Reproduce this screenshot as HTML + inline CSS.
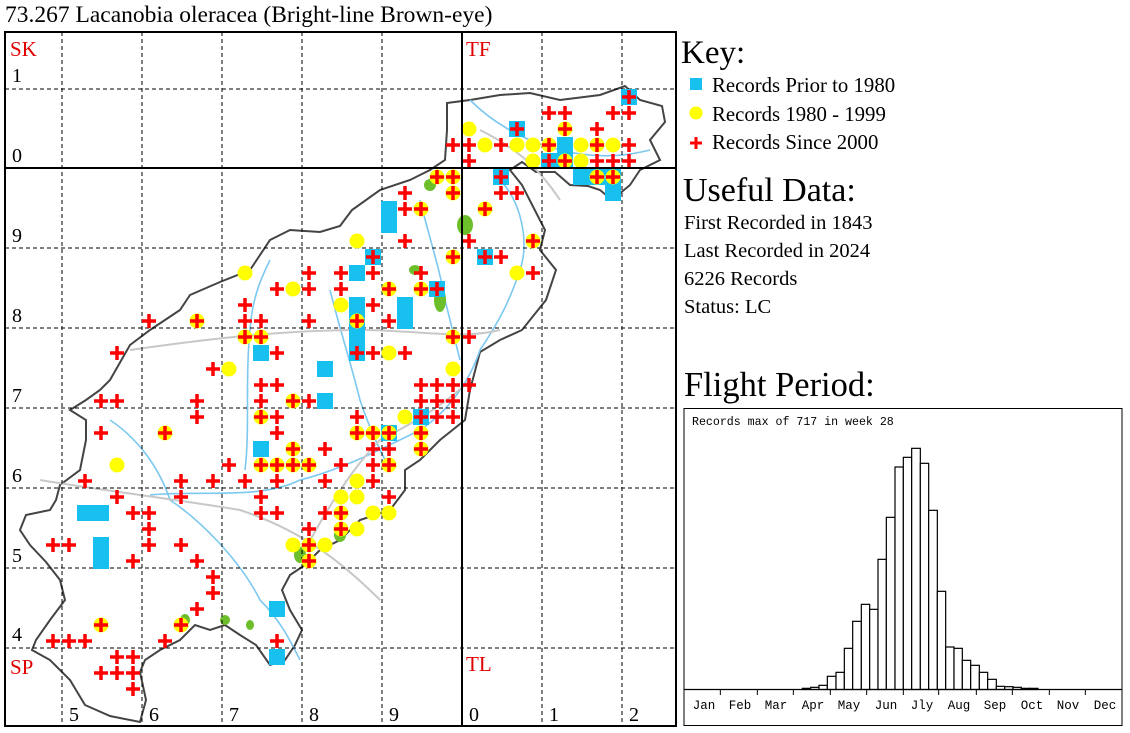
<!DOCTYPE html>
<html><head><meta charset="utf-8"><style>
html,body{margin:0;padding:0;background:#fff;width:1130px;height:733px;overflow:hidden}
svg{display:block}
.s{font-family:"Liberation Serif",serif}
.m{font-family:"Liberation Mono",monospace}
</style></head><body>
<svg id="svg" width="1130" height="733" viewBox="0 0 1130 733" xmlns="http://www.w3.org/2000/svg">
<text x="5" y="22" class="s" font-size="23.5">73.267 Lacanobia oleracea (Bright-line Brown-eye)</text>
<g id="map">
<polygon fill="#fff" stroke="#444" stroke-width="2" points="447,103 470,100 500,95 530,93 560,100 600,95 625,86 640,100 662,106 665,122 650,140 660,160 640,170 630,185 612,200 600,190 588,186 570,185 555,172 536,172 522,162 510,170 522,185 545,230 540,250 556,270 546,300 522,330 500,340 480,352 470,390 465,420 440,440 420,460 405,470 405,490 390,510 360,520 340,540 320,550 305,565 290,575 282,590 290,610 302,630 295,645 285,660 270,665 256,645 240,635 225,625 210,630 195,625 180,640 160,650 145,660 140,672 146,700 140,722 110,716 85,705 70,680 50,660 32,650 36,640 50,620 65,600 60,580 46,562 30,545 20,530 26,515 50,510 56,500 60,485 80,470 86,440 86,420 70,410 86,400 100,390 110,380 130,345 150,330 180,310 190,295 220,282 250,270 270,240 290,230 320,232 340,226 352,210 380,190 410,180 430,170 445,160 447,130"/>
<g fill="none" stroke="#7cc8f0" stroke-width="1.6">
<path d="M150,495 C200,490 260,500 300,480 C340,470 380,450 420,430 C450,410 470,380 480,350 C500,320 510,300 520,270 C530,240 520,200 500,180"/>
<path d="M110,420 C140,440 160,470 170,500 C200,520 240,560 260,600 C280,620 290,640 300,660"/>
<path d="M245,470 C250,430 245,380 250,330 C252,300 260,280 270,260"/>
<path d="M330,290 C340,330 350,360 360,400 C370,430 380,450 390,470"/>
<path d="M420,200 C430,240 440,270 445,300 C450,320 455,340 460,360"/>
<path d="M470,100 C490,120 520,140 560,150 C600,160 630,155 650,150"/>
</g>
<g fill="none" stroke="#c8c8c8" stroke-width="2">
<path d="M40,480 C100,490 180,500 240,510 C300,530 340,560 380,600"/>
<path d="M130,350 C200,340 280,330 360,330 C420,330 460,340 500,330"/>
<path d="M300,560 C320,520 350,470 380,440 C420,420 450,400 470,380"/>
<path d="M480,130 C520,150 540,170 560,200"/>
</g>
<g fill="#6cbf2a">
<ellipse cx="465" cy="225" rx="8" ry="10"/><ellipse cx="440" cy="300" rx="6" ry="12"/><ellipse cx="415" cy="270" rx="6" ry="5"/><ellipse cx="300" cy="555" rx="6" ry="8"/><ellipse cx="340" cy="535" rx="6" ry="7"/><ellipse cx="430" cy="185" rx="6" ry="6"/><ellipse cx="185" cy="620" rx="5" ry="6"/><ellipse cx="225" cy="620" rx="5" ry="5"/><ellipse cx="250" cy="625" rx="4" ry="5"/>
</g>
<g stroke="#000" stroke-width="1" stroke-dasharray="4,3" fill="none">
<path d="M62,32V726M142,32V726M222,32V726M302,32V726M382,32V726M542,32V726M622,32V726"/>
<path d="M5,89H676M5,248H676M5,328H676M5,408H676M5,488H676M5,568H676M5,648H676"/>
</g>
<g id="marks"></g>
<g stroke="#000" stroke-width="2" fill="none">
<rect x="5" y="32" width="671" height="694"/>
<path d="M462,32V726M5,168H676"/>
</g>
<g class="s" font-size="21" fill="#e00000">
<text x="10" y="56">SK</text><text x="466" y="56">TF</text><text x="10" y="674">SP</text><text x="466" y="671">TL</text>
</g>
<g class="s" font-size="20" fill="#000">
<text x="12" y="82">1</text><text x="12" y="162">0</text><text x="12" y="242">9</text><text x="12" y="322">8</text><text x="12" y="402">7</text><text x="12" y="482">6</text><text x="12" y="562">5</text><text x="12" y="641">4</text>
<text x="69" y="721">5</text><text x="149" y="721">6</text><text x="229" y="721">7</text><text x="309" y="721">8</text><text x="389" y="721">9</text><text x="469" y="721">0</text><text x="549" y="721">1</text><text x="629" y="721">2</text>
</g>
</g>
<text x="681" y="63" class="s" font-size="33">Key:</text>
<rect x="690" y="78" width="12" height="12" fill="#18c0f0"/>
<circle cx="696" cy="113" r="6.5" fill="#ffff00"/>
<path d="M690,143h12M696,137v12" stroke="#f00" stroke-width="3"/>
<g class="s" font-size="20.8"><text x="712" y="92">Records Prior to 1980</text><text x="712" y="121">Records 1980 - 1999</text><text x="712" y="149">Records Since 2000</text></g>
<text x="683" y="201" class="s" font-size="34">Useful Data:</text>
<g class="s" font-size="20.5"><text x="684" y="229">First Recorded in 1843</text><text x="684" y="257">Last Recorded in 2024</text><text x="684" y="285">6226 Records</text><text x="684" y="313">Status: LC</text></g>
<text x="684" y="396" class="s" font-size="34.5">Flight Period:</text>
<rect x="684" y="408.5" width="438" height="317" fill="none" stroke="#000" stroke-width="1"/>
<text x="692" y="425" class="m" font-size="11.6">Records max of 717 in week 28</text>
<g id="hist"></g>
<path d="M684,689.5H1122" stroke="#000" stroke-width="1.2"/>
<g id="ticks" stroke="#000" stroke-width="1"></g>
<g class="m" font-size="12.5" text-anchor="middle">
<text x="704" y="709">Jan</text><text x="740" y="709">Feb</text><text x="776" y="709">Mar</text><text x="813" y="709">Apr</text><text x="849" y="709">May</text><text x="886" y="709">Jun</text><text x="922" y="709">Jly</text><text x="959" y="709">Aug</text><text x="995" y="709">Sep</text><text x="1032" y="709">Oct</text><text x="1068" y="709">Nov</text><text x="1105" y="709">Dec</text>
</g>
</svg>
<script>
var NS="http://www.w3.org/2000/svg";
function el(p,t,a){var e=document.createElementNS(NS,t);for(var k in a)e.setAttribute(k,a[k]);p.appendChild(e);return e;}
var D="629,97,sp;549,113,p;565,113,p;613,113,p;629,113,p;469,129,c;517,129,sp;565,129,cp;597,129,p;453,145,p;469,145,p;485,145,c;501,145,p;517,145,c;533,145,c;549,145,cp;565,145,s;581,145,c;597,145,cp;613,145,c;629,145,p;469,161,p;533,161,c;549,161,sp;565,161,scp;581,161,c;597,161,p;613,161,p;629,161,p;437,177,cp;453,177,cp;501,177,sp;581,177,s;597,177,scp;613,177,scp;613,193,s;453,193,cp;405,193,p;501,193,p;517,193,p;389,209,s;405,209,p;421,209,cp;485,209,cp;389,225,s;357,241,c;405,241,p;469,241,p;533,241,cp;373,257,sp;453,257,cp;485,257,sp;501,257,p;245,273,c;309,273,p;341,273,p;357,273,s;373,273,p;421,273,p;517,273,c;533,273,p;277,289,p;293,289,c;309,289,p;341,289,p;389,289,cp;421,289,cp;437,289,sp;245,305,p;341,305,c;357,305,s;373,305,p;405,305,s;197,321,cp;245,321,p;261,321,p;309,321,p;357,321,scp;389,321,p;405,321,s;149,321,p;245,337,cp;261,337,cp;357,337,s;453,337,cp;469,337,p;117,353,p;261,353,s;277,353,p;357,353,sp;373,353,p;389,353,c;405,353,p;213,369,p;229,369,c;325,369,s;453,369,c;261,385,p;277,385,p;421,385,p;437,385,p;453,385,p;469,385,p;101,401,p;117,401,p;197,401,p;261,401,p;293,401,cp;309,401,p;325,401,s;421,401,p;437,401,p;453,401,p;197,417,p;261,417,cp;277,417,p;357,417,p;405,417,c;421,417,sp;437,417,p;453,417,p;101,433,p;165,433,cp;277,433,p;357,433,cp;373,433,cp;389,433,scp;421,433,cp;261,449,s;293,449,cp;325,449,p;373,449,p;389,449,p;421,449,cp;117,465,c;229,465,p;261,465,cp;277,465,cp;293,465,cp;309,465,cp;341,465,p;373,465,p;389,465,cp;85,481,p;181,481,p;213,481,p;245,481,p;277,481,p;325,481,p;357,481,c;373,481,p;117,497,p;181,497,p;261,497,p;341,497,c;357,497,c;389,497,p;85,513,s;101,513,s;133,513,p;149,513,p;261,513,p;277,513,p;325,513,p;341,513,cp;373,513,c;389,513,c;149,529,p;309,529,p;341,529,cp;357,529,c;53,545,p;69,545,p;101,545,s;149,545,p;181,545,p;293,545,c;309,545,cp;325,545,c;101,561,s;133,561,p;197,561,p;309,561,cp;213,577,p;213,593,p;197,609,p;277,609,s;181,625,cp;101,625,cp;53,641,p;69,641,p;85,641,p;165,641,p;277,641,p;117,657,p;133,657,p;277,657,s;101,673,p;117,673,p;133,673,p;133,689,p";
var M=D.split(";").map(function(s){var a=s.split(",");return [+a[0],+a[1],a[2]];});
var g=document.getElementById("marks");
M.forEach(function(m){if(m[2].indexOf("s")>=0)el(g,"rect",{x:m[0]-8,y:m[1]-8,width:16,height:16,fill:"#18c0f0"});});
M.forEach(function(m){if(m[2].indexOf("c")>=0)el(g,"circle",{cx:m[0],cy:m[1],r:7.5,fill:"#ffff00"});});
M.forEach(function(m){if(m[2].indexOf("p")>=0)el(g,"path",{d:"M"+(m[0]-7)+","+m[1]+"h14M"+m[0]+","+(m[1]-7)+"v14",stroke:"#f00","stroke-width":3.5});});
var E=[358,383,408,433,459,484,509,535,560,585,610,636,661,686,712,737,763,788,813,838,863,889,914,940,965,990,1015,1040,1065];
var T=[850,847,841,814,802,730,649,598,613,463,337,186,157,130,175,316,559,726,730,766,781,802,823,844,845,847,850,850];
var h=document.getElementById("hist");
for(var i=0;i<T.length;i++){var x0=683+E[i]/3,x1=683+E[i+1]/3,y=405+T[i]/3;
el(h,"rect",{x:x0,y:y,width:x1-x0,height:689.5-y,fill:"#fff",stroke:"#000","stroke-width":1.2});}
var tk=document.getElementById("ticks");
[112,223,331,442,551,661,767,880,988,1099,1207].forEach(function(z){var x=683+z/3;el(tk,"path",{d:"M"+x+",689V695"});});
</script>
</body></html>
